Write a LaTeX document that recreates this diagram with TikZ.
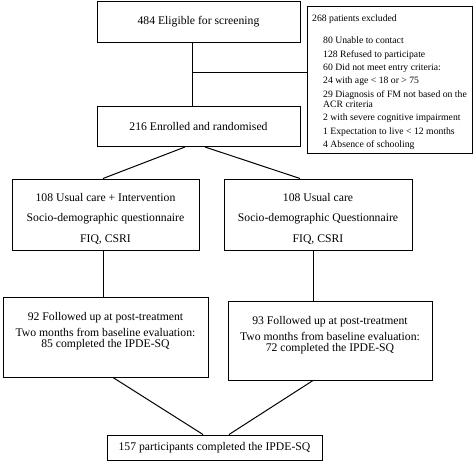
\documentclass[tikz,border=0pt]{standalone}
\usepackage{fontspec}
\setmainfont{Liberation Serif}

\begin{document}
\begin{tikzpicture}[x=1pt, y=-1pt,
    box/.style={draw, line width=1pt, align=center, inner sep=0pt,
        font=\fontsize{11.7}{14}\selectfont},
    smallbox/.style={draw, line width=1pt, align=left, inner sep=0pt,
        font=\fontsize{9.7}{13.3}\selectfont},
    link/.style={line width=1pt}]
    \useasboundingbox (0,0) rectangle (474,461);

    % screening and exclusions
    \node[box, minimum width=203, minimum height=40.5] (elig) at (198.5, 21.75)
        {484 Eligible for screening};
    \node[smallbox, minimum width=165, minimum height=147] (excl) at (389.5, 79.5)
        {\rule{0pt}{12pt}268 patients excluded\\[9pt]
         \hspace*{11pt}80 Unable to contact\\
         \hspace*{11pt}128 Refused to participate\\
         \hspace*{11pt}60 Did not meet entry criteria:\\
         \hspace*{11pt}24 with age < 18 or > 75\\
         \hspace*{11pt}29 Diagnosis of FM not based on the\\[-3pt]
         \hspace*{11pt}ACR criteria\\
         \hspace*{11pt}2 with severe cognitive impairment\\
         \hspace*{11pt}1 Expectation to live < 12 months\\
         \hspace*{11pt}4 Absence of schooling};
    \node[box, minimum width=203, minimum height=40.5] (enrol) at (198.5, 126.25)
        {216 Enrolled and randomised};

    % two arms
    \node[box, minimum width=187, minimum height=71] (armA) at (105.5, 214.5)
        {\rule{0pt}{16pt}108 Usual care + Intervention\\[6.5pt]
         Socio-demographic questionnaire\\[6.5pt]
         FIQ, CSRI};
    \node[box, minimum width=188, minimum height=71] (armB) at (318, 214.5)
        {\rule{0pt}{16pt}108 Usual care\\[6.5pt]
         Socio-demographic Questionnaire\\[6.5pt]
         FIQ, CSRI};

    % follow up
    \node[box, minimum width=205, minimum height=80] (followA) at (105.5, 337)
        {92 Followed up at post-treatment\\[2pt]
         Two months from baseline evaluation:\\[-3pt]
         85 completed the IPDE-SQ\rule[-15pt]{0pt}{15pt}};
    \node[box, minimum width=204, minimum height=79] (followB) at (330, 340.5)
        {93 Followed up at post-treatment\\[2pt]
         Two months from baseline evaluation:\\[-3pt]
         72 completed the IPDE-SQ\rule[-14pt]{0pt}{14pt}};

    % final count
    \node[box, minimum width=215, minimum height=25] (final) at (214.5, 447.5)
        {157 participants completed the IPDE-SQ};

    % connectors
    \coordinate (split) at ([xshift=-6.5]elig.south |- 0,72.5);
    \draw[link] ([xshift=-6.5]elig.south) -- ([xshift=-6.5]enrol.north);
    \draw[link] (split) -- (split -| excl.west);
    \draw[link] ([xshift=-13.5]enrol.south) -- ([xshift=-2.5]armA.north);
    \draw[link] ([xshift=6.5]enrol.south) -- ([xshift=-18]armB.north);
    \draw[link] ([xshift=-2]armA.south) -- ([xshift=-2]armA.south |- followA.north);
    \draw[link] ([xshift=-5]armB.south) -- ([xshift=-5]armB.south |- followB.north);
    \draw[link] ([xshift=7.5]followA.south) -- ([xshift=-11.5]final.north);
    \draw[link] ([xshift=-17]followB.south) -- ([xshift=14.5]final.north);
\end{tikzpicture}
\end{document}
